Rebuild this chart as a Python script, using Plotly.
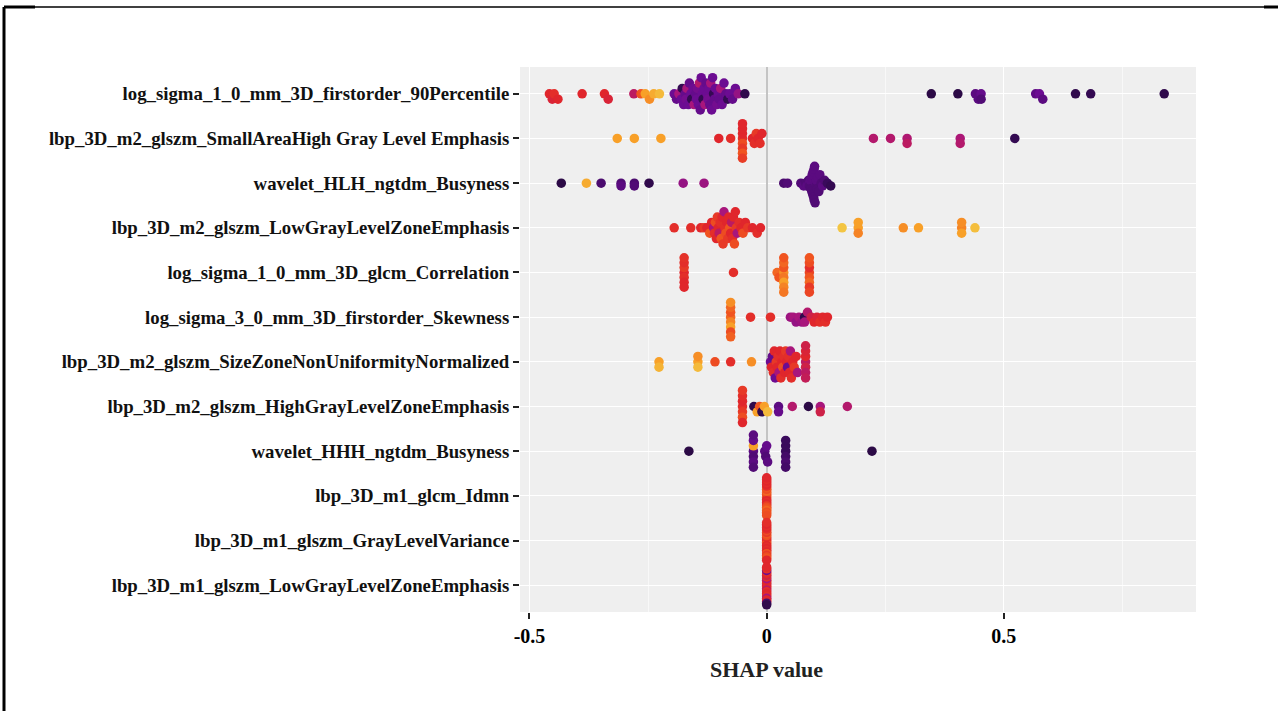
import numpy as np
import plotly.graph_objects as go

# ---------------- data ----------------
features = [
    "log_sigma_1_0_mm_3D_firstorder_90Percentile",
    "lbp_3D_m2_glszm_SmallAreaHigh Gray Level Emphasis",
    "wavelet_HLH_ngtdm_Busyness",
    "lbp_3D_m2_glszm_LowGrayLevelZoneEmphasis",
    "log_sigma_1_0_mm_3D_glcm_Correlation",
    "log_sigma_3_0_mm_3D_firstorder_Skewness",
    "lbp_3D_m2_glszm_SizeZoneNonUniformityNormalized",
    "lbp_3D_m2_glszm_HighGrayLevelZoneEmphasis",
    "wavelet_HHH_ngtdm_Busyness",
    "lbp_3D_m1_glcm_Idmn",
    "lbp_3D_m1_glszm_GrayLevelVariance",
    "lbp_3D_m1_glszm_LowGrayLevelZoneEmphasis",
]

shap_r01 = [-0.458, -0.452, -0.448, -0.440, -0.389, -0.342, -0.334, -0.280, -0.265, -0.256, -0.247, -0.238, -0.226,
            -0.195, -0.190, -0.185, -0.180, -0.178, -0.175, -0.172, -0.170, -0.168, -0.165, -0.163, -0.160, -0.158,
            -0.155, -0.153, -0.150, -0.148, -0.146, -0.144, -0.142, -0.140, -0.138, -0.136, -0.134, -0.132, -0.130,
            -0.128, -0.126, -0.124, -0.122, -0.120, -0.118, -0.116, -0.114, -0.112, -0.110, -0.108, -0.105, -0.102,
            -0.100, -0.097, -0.094, -0.090, -0.086, -0.082, -0.078, -0.072, -0.066, -0.060, -0.046,
            0.347, 0.403, 0.440, 0.446, 0.452, 0.452, 0.567, 0.575, 0.582, 0.651, 0.683, 0.838]
feat_r01 = [0.60, 0.58, 0.62, 0.60, 0.60, 0.60, 0.58, 0.50, 0.72, 0.85, 0.82, 0.88, 0.92,
            0.30, 0.28, 0.45, 0.30, 0.12, 0.30, 0.28, 0.32, 0.45, 0.30, 0.28, 0.30, 0.12,
            0.30, 0.45, 0.28, 0.30, 0.32, 0.30, 0.48, 0.28, 0.30, 0.30, 0.12, 0.30, 0.45,
            0.28, 0.30, 0.32, 0.30, 0.28, 0.45, 0.30, 0.30, 0.12, 0.28, 0.30, 0.32, 0.30,
            0.28, 0.45, 0.30, 0.30, 0.28, 0.12, 0.30, 0.28, 0.30, 0.40, 0.10,
            0.08, 0.08, 0.25, 0.25, 0.28, 0.22, 0.26, 0.30, 0.25, 0.10, 0.12, 0.10]

shap_r02 = [-0.315, -0.279, -0.223, -0.101, -0.076, -0.051, -0.051, -0.051, -0.051, -0.051, -0.051, -0.051, -0.051,
            -0.030, -0.026, -0.022, -0.018, -0.014, -0.010, 0.225, 0.261, 0.296, 0.296, 0.408, 0.408, 0.523]
feat_r02 = [0.85, 0.85, 0.85, 0.60, 0.62, 0.62, 0.70, 0.60, 0.65, 0.60, 0.72, 0.60, 0.66,
            0.60, 0.62, 0.65, 0.60, 0.62, 0.60, 0.48, 0.48, 0.47, 0.50, 0.46, 0.48, 0.12]

shap_r03 = [-0.433, -0.380, -0.349, -0.307, -0.307, -0.279, -0.279, -0.248, -0.176, -0.132, 0.036, 0.044,
            0.072, 0.078, 0.082, 0.085, 0.088, 0.090, 0.090, 0.092, 0.093, 0.095, 0.095, 0.096, 0.097, 0.098,
            0.099, 0.100, 0.100, 0.101, 0.102, 0.103, 0.104, 0.105, 0.106, 0.108, 0.110, 0.112, 0.115, 0.118,
            0.122, 0.128, 0.135]
feat_r03 = [0.08, 0.88, 0.20, 0.22, 0.25, 0.20, 0.22, 0.10, 0.40, 0.42, 0.20, 0.22,
            0.22, 0.25, 0.22, 0.25, 0.22, 0.25, 0.22, 0.25, 0.22, 0.25, 0.22, 0.25, 0.22, 0.25,
            0.22, 0.25, 0.22, 0.25, 0.22, 0.25, 0.22, 0.25, 0.22, 0.25, 0.22, 0.25, 0.22, 0.25,
            0.22, 0.15, 0.12]

shap_r04 = [-0.195, -0.160, -0.139, -0.132, -0.126, -0.120, -0.116, -0.112, -0.110, -0.108, -0.106, -0.104,
            -0.102, -0.100, -0.098, -0.096, -0.094, -0.092, -0.090, -0.088, -0.086, -0.084, -0.082, -0.080,
            -0.078, -0.076, -0.074, -0.072, -0.070, -0.068, -0.066, -0.064, -0.062, -0.058, -0.054, -0.050,
            -0.045, -0.040, -0.030, -0.020, -0.013,
            0.159, 0.193, 0.193, 0.193, 0.288, 0.320, 0.411, 0.411, 0.411, 0.439]
feat_r04 = [0.62, 0.62, 0.60, 0.65, 0.60, 0.72, 0.60, 0.45, 0.62, 0.70, 0.60, 0.65,
            0.60, 0.50, 0.62, 0.72, 0.60, 0.65, 0.45, 0.62, 0.70, 0.60, 0.65, 0.60,
            0.72, 0.60, 0.50, 0.62, 0.60, 0.70, 0.60, 0.65, 0.45, 0.62, 0.60, 0.70,
            0.60, 0.65, 0.60, 0.62, 0.60,
            0.95, 0.85, 0.80, 0.85, 0.82, 0.85, 0.80, 0.85, 0.82, 0.93]

shap_r05 = [-0.174, -0.174, -0.174, -0.174, -0.174, -0.174, -0.174, -0.070, 0.022, 0.026,
            0.036, 0.036, 0.036, 0.036, 0.036, 0.036, 0.036, 0.036,
            0.090, 0.090, 0.090, 0.090, 0.090, 0.090, 0.090, 0.090]
feat_r05 = [0.60, 0.62, 0.65, 0.60, 0.62, 0.60, 0.63, 0.62, 0.75, 0.72,
            0.82, 0.78, 0.72, 0.85, 0.75, 0.80, 0.72, 0.78,
            0.68, 0.72, 0.62, 0.75, 0.70, 0.65, 0.72, 0.68]

shap_r06 = [-0.076, -0.076, -0.076, -0.076, -0.076, -0.076, -0.076, -0.076, -0.034, 0.008,
            0.050, 0.056, 0.062, 0.068, 0.074, 0.080, 0.080, 0.086, 0.094, 0.100, 0.106, 0.112,
            0.118, 0.124, 0.128]
feat_r06 = [0.75, 0.80, 0.72, 0.85, 0.75, 0.70, 0.82, 0.74, 0.62, 0.62,
            0.42, 0.45, 0.40, 0.45, 0.42, 0.10, 0.45, 0.48, 0.55, 0.60, 0.58, 0.62,
            0.60, 0.62, 0.60]

shap_r07 = [-0.227, -0.227, -0.145, -0.145, -0.145, -0.109, -0.076, -0.032,
            0.008, 0.010, 0.012, 0.014, 0.016, 0.018, 0.020, 0.022, 0.024, 0.026, 0.028, 0.030,
            0.032, 0.034, 0.036, 0.038, 0.040, 0.042, 0.044, 0.046, 0.048, 0.050, 0.052, 0.055,
            0.058, 0.062, 0.065,
            0.082, 0.082, 0.082, 0.082, 0.082, 0.082, 0.082]
feat_r07 = [0.85, 0.90, 0.85, 0.92, 0.82, 0.70, 0.62, 0.82,
            0.30, 0.60, 0.28, 0.62, 0.60, 0.30, 0.65, 0.60, 0.62, 0.45, 0.60, 0.62,
            0.60, 0.70, 0.62, 0.60, 0.65, 0.60, 0.30, 0.62, 0.60, 0.45, 0.62, 0.60,
            0.65, 0.60, 0.45,
            0.50, 0.55, 0.60, 0.50, 0.58, 0.52, 0.55]

shap_r08 = [-0.051, -0.051, -0.051, -0.051, -0.051, -0.051, -0.051,
            -0.027, -0.020, -0.015, -0.010, -0.005, 0.002, 0.025, 0.025, 0.054, 0.088, 0.113, 0.113, 0.170]
feat_r08 = [0.62, 0.65, 0.60, 0.70, 0.62, 0.60, 0.65,
            0.10, 0.85, 0.72, 0.10, 0.85, 0.92, 0.25, 0.28, 0.48, 0.08, 0.45, 0.55, 0.48]

shap_r09 = [-0.164, -0.028, -0.028, -0.028, -0.028, -0.028, -0.028, -0.028,
            -0.004, -0.002, 0.000, 0.002, 0.040, 0.040, 0.040, 0.040, 0.040, 0.040, 0.222]
feat_r09 = [0.08, 0.25, 0.22, 0.85, 0.25, 0.28, 0.22, 0.25,
            0.25, 0.22, 0.28, 0.25, 0.15, 0.18, 0.15, 0.20, 0.15, 0.18, 0.08]

shap_r10 = [0.0] * 24
feat_r10 = [0.72, 0.75, 0.70, 0.62, 0.72, 0.60, 0.75, 0.62, 0.70, 0.60, 0.72, 0.65,
            0.62, 0.70, 0.60, 0.72, 0.62, 0.75, 0.60, 0.70, 0.62, 0.72, 0.60, 0.70]
shap_r11 = [0.0] * 24
feat_r11 = [0.62, 0.70, 0.60, 0.72, 0.62, 0.60, 0.70, 0.62, 0.72, 0.60, 0.65, 0.62,
            0.70, 0.60, 0.62, 0.72, 0.60, 0.65, 0.62, 0.70, 0.60, 0.72, 0.62, 0.60]
shap_r12 = [0.0] * 24
feat_r12 = [0.60, 0.62, 0.55, 0.60, 0.62, 0.50, 0.60, 0.62, 0.45, 0.60, 0.62, 0.60,
            0.55, 0.62, 0.60, 0.45, 0.62, 0.60, 0.30, 0.60, 0.62, 0.20, 0.60, 0.10]

shap_rows = [shap_r01, shap_r02, shap_r03, shap_r04, shap_r05, shap_r06,
             shap_r07, shap_r08, shap_r09, shap_r10, shap_r11, shap_r12]
feat_rows = [feat_r01, feat_r02, feat_r03, feat_r04, feat_r05, feat_r06,
             feat_r07, feat_r08, feat_r09, feat_r10, feat_r11, feat_r12]

x_tickvals = [-0.5, 0, 0.5]
x_ticktext = ["-0.5", "0", "0.5"]
x_title = "SHAP value"


# ---------------- beeswarm layout ----------------
def swarm_offsets(vals, bin_w=0.012, max_half=0.44, step_cap=0.12):
    vals = np.asarray(vals, float)
    q = np.round(vals / bin_w)
    order = np.argsort(q, kind="stable")
    ys = np.zeros(len(vals))
    layer, last = 0, None
    for i in order:
        if q[i] != last:
            layer = 0
        ys[i] = np.ceil(layer / 2) * ((layer % 2) * 2 - 1)
        layer += 1
        last = q[i]
    m = np.max(np.abs(ys)) if len(ys) else 0
    step = step_cap if m == 0 else min(step_cap, max_half / m)
    return ys * step


xs, ys, cs = [], [], []
for r, (sv, fv) in enumerate(zip(shap_rows, feat_rows)):
    off = swarm_offsets(sv)
    xs.extend(sv)
    ys.extend(list(r + off))
    cs.extend(fv)

colorscale = [
    [0.00, "#1c0a2c"],
    [0.15, "#3a0a5c"],
    [0.30, "#6c0c92"],
    [0.45, "#a8167c"],
    [0.60, "#e0262c"],
    [0.72, "#f05420"],
    [0.85, "#f8a028"],
    [1.00, "#f0d850"],
]

fig = go.Figure()
fig.add_trace(go.Scatter(
    x=xs, y=ys, mode="markers",
    marker=dict(size=9.5, color=cs, colorscale=colorscale, cmin=0, cmax=1,
                line=dict(width=0), opacity=1),
    hoverinfo="x", showlegend=False,
))

W, H = 1278, 711
L, R, T, B = 520, 82, 67, 99
pw, ph = W - L - R, H - T - B


def px2x(px):
    return (px - L) / pw


def px2y(py):
    return 1 - (py - T) / ph


serif = "Liberation Serif"
fig.update_layout(
    width=W, height=H,
    margin=dict(l=L, r=R, t=T, b=B, pad=0),
    paper_bgcolor="white",
    plot_bgcolor="#efefef",
    font=dict(family=serif, color="black"),
    xaxis=dict(
        range=[-0.52, 0.905],
        tickvals=x_tickvals, ticktext=x_ticktext,
        ticks="outside", ticklen=6, tickwidth=2, tickcolor="#222",
        tickfont=dict(family=serif, size=20, color="black", weight="bold"),
        showgrid=True, gridcolor="white", gridwidth=1.2,
        minor=dict(tickvals=[-0.25, 0.25, 0.75], showgrid=True, gridcolor="#f8f8f8", gridwidth=0.6, ticks=""),
        zeroline=True, zerolinecolor="#c4c4c4", zerolinewidth=2,
        showline=False,
    ),
    yaxis=dict(
        range=[11.6, -0.6],
        tickvals=list(range(len(features))), ticktext=features,
        ticks="outside", ticklen=6, tickwidth=2, tickcolor="#222",
        tickfont=dict(family=serif, size=18.8, color="#111", weight="bold"),
        showgrid=True, gridcolor="white", gridwidth=1.2,
        zeroline=False, showline=False,
    ),
)

fig.add_annotation(
    x=0, xref="x", y=px2y(669), yref="paper", text=x_title, showarrow=False,
    xanchor="center", yanchor="middle",
    font=dict(family=serif, size=22, color="#222", weight="bold"),
)

# outer frame lines seen in the figure
frame = [
    (4, 7, 4, 711, 3),
    (4, 7, 1270, 7, 1.5),
    (4, 7, 35, 7, 3),
    (1264, 7, 1278, 7, 3),
]
for x0, y0, x1, y1, w in frame:
    fig.add_shape(type="line", xref="paper", yref="paper",
                  x0=px2x(x0), y0=px2y(y0), x1=px2x(x1), y1=px2y(y1),
                  line=dict(color="black", width=w), layer="above")

fig.write_html("out.html")
